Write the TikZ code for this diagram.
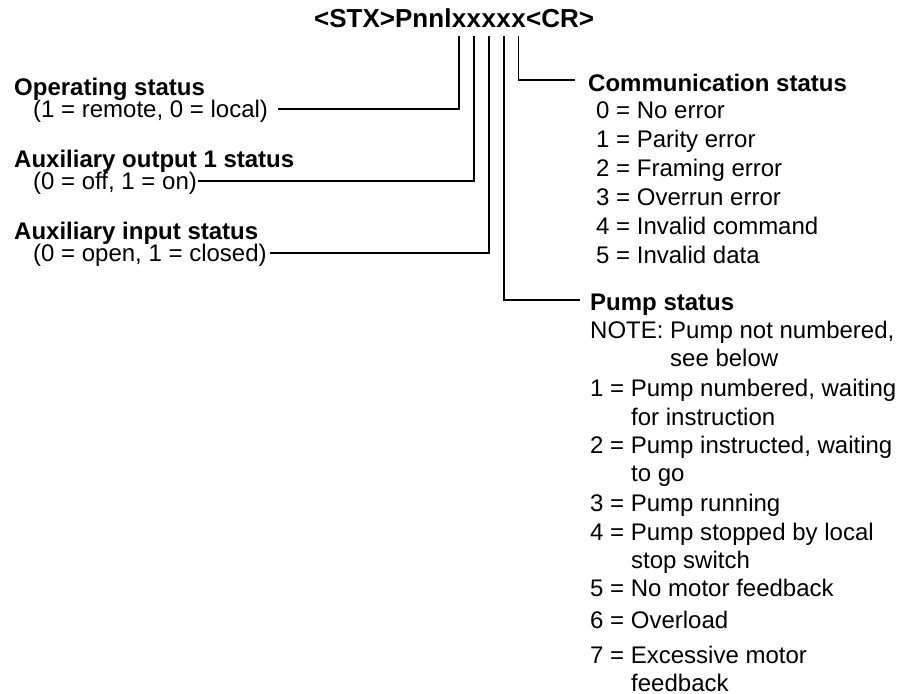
\documentclass[tikz,border=0pt]{standalone}
\usepackage{fontspec}
\setmainfont{Liberation Sans}
\begin{document}
\begin{tikzpicture}[x=1pt,y=-1pt,
  lbl/.style={anchor=west, inner sep=0pt, text height=17.2pt, text depth=0pt, font=\fontsize{24}{28}\selectfont},
  hd/.style={lbl, font=\fontsize{24}{28}\selectfont\bfseries},
  ttl/.style={anchor=base west, inner sep=0pt, font=\fontsize{26}{30}\selectfont\bfseries},
  wire/.style={line width=1.8pt, line cap=butt, line join=miter}]
\useasboundingbox (0,0) rectangle (912,693);

% title
\node[ttl] (t0) at (314,28) {<STX>Pnnl};
\node[ttl] (x1) at (t0.base east) {x};
\node[ttl] (x2) at (x1.base east) {x};
\node[ttl] (x3) at (x2.base east) {x};
\node[ttl] (x4) at (x3.base east) {x};
\node[ttl] (x5) at (x4.base east) {x};
\node[ttl] (t6) at (x5.base east) {<CR>};

% left side
\node[hd]  (op)   at (14,87)  {Operating status};
\node[lbl] (opv)  at (33,109) {(1 = remote, 0 = local)};
\node[hd]  (ao)   at (14,159) {Auxiliary output 1 status};
\node[lbl] (aov)  at (33,181) {(0 = off, 1 = on)};
\node[hd]  (ai)   at (14,231) {Auxiliary input status};
\node[lbl] (aiv)  at (33,253) {(0 = open, 1 = closed)};

% communication status
\node[hd]  (comm) at (588,83)  {Communication status};
\node[lbl] (c0)   at (596,110) {0 = No error};
\node[lbl] (c1)   at (596,139) {1 = Parity error};
\node[lbl] (c2)   at (596,168) {2 = Framing error};
\node[lbl] (c3)   at (596,197) {3 = Overrun error};
\node[lbl] (c4)   at (596,226) {4 = Invalid command};
\node[lbl] (c5)   at (596,255) {5 = Invalid data};

% pump status
\node[hd]  (pump) at (590,302) {Pump status};
\node[lbl] (pn)   at (590,330) {NOTE: Pump not numbered,};
\node[lbl] (pn2)  at (670,358) {see below};
\node[lbl] (p1)   at (590,388) {1 = Pump numbered, waiting};
\node[lbl] (p1b)  at (631,417) {for instruction};
\node[lbl] (p2)   at (590,445) {2 = Pump instructed, waiting};
\node[lbl] (p2b)  at (631,473) {to go};
\node[lbl] (p3)   at (590,503) {3 = Pump running};
\node[lbl] (p4)   at (590,532) {4 = Pump stopped by local};
\node[lbl] (p4b)  at (631,560) {stop switch};
\node[lbl] (p5)   at (590,588) {5 = No motor feedback};
\node[lbl] (p6)   at (590,620) {6 = Overload};
\node[lbl] (p7)   at (590,655) {7 = Excessive motor};
\node[lbl] (p7b)  at (631,683) {feedback};

% connectors
\draw[wire] ([yshift=-8pt]x1.south) |- ([xshift=10pt]opv.east);
\draw[wire] ([yshift=-8pt]x2.south) |- ([xshift=1pt]aov.east);
\draw[wire] ([yshift=-8pt]x3.south) |- ([xshift=3pt]aiv.east);
\draw[wire] ([yshift=-8pt]x4.south) |- ([xshift=-10pt,yshift=2pt]pump.west);
\draw[wire] ([yshift=-8pt]x5.south) |- ([xshift=-13pt,yshift=3pt]comm.west);
\end{tikzpicture}
\end{document}
